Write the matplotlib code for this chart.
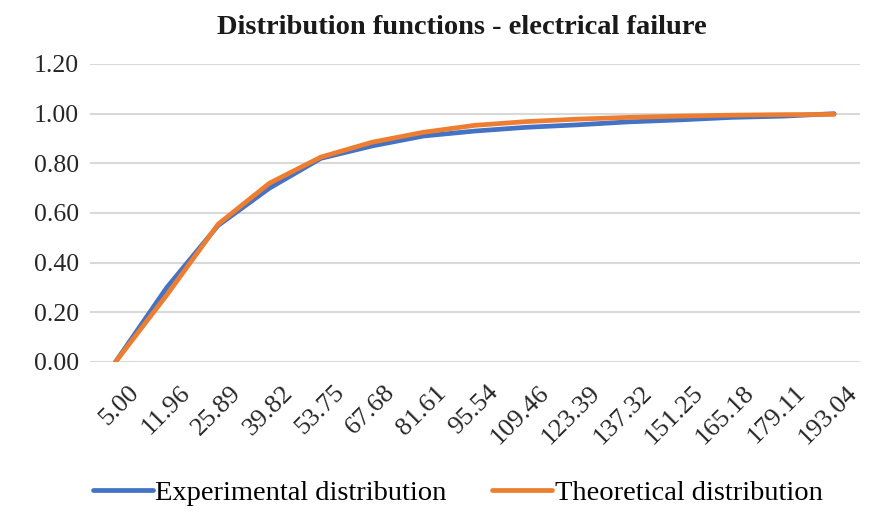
import matplotlib
matplotlib.use("Agg")
from matplotlib import pyplot as plt
from matplotlib import transforms

categories = ["5.00", "11.96", "25.89", "39.82", "53.75", "67.68", "81.61", "95.54",
              "109.46", "123.39", "137.32", "151.25", "165.18", "179.11", "193.04"]
experimental = [0.00, 0.30, 0.55, 0.70, 0.82, 0.87, 0.91, 0.93, 0.945, 0.955,
                0.967, 0.975, 0.985, 0.99, 1.00]
theoretical = [0.00, 0.27, 0.555, 0.72, 0.825, 0.885, 0.925, 0.953, 0.968, 0.978,
               0.985, 0.990, 0.994, 0.996, 0.997]
yticks = [0.0, 0.2, 0.4, 0.6, 0.8, 1.0, 1.2]

plt.rcParams["font.family"] = ["Liberation Serif", "DejaVu Serif"]

fig = plt.figure(figsize=(8.72, 5.12), dpi=100)
ax = fig.add_axes([0.103, 0.293, 0.883, 0.582])

x = list(range(len(categories)))
ax.plot(x, experimental, color="#4472C4", linewidth=3.4, solid_capstyle="round",
        label="Experimental distribution")
ax.plot(x, theoretical, color="#ED7D31", linewidth=3.4, solid_capstyle="round",
        label="Theoretical distribution")

ax.set_xlim(-0.5, len(categories) - 0.5)
ax.set_ylim(0, 1.2)
ax.set_yticks(yticks)
ax.set_yticklabels(["%.2f" % v for v in yticks], fontsize=18.5, color="#262626")
ax.set_xticks(x)
ax.set_xticklabels(categories, rotation=45, ha="right", rotation_mode="anchor",
                   fontsize=19, color="#262626")
ax.tick_params(axis="both", length=0, pad=8)
ax.tick_params(axis="x", pad=14)
shift = transforms.ScaledTranslation(12 / 100, 0, fig.dpi_scale_trans)
for lab in ax.get_xticklabels():
    lab.set_transform(lab.get_transform() + shift)
ax.grid(axis="y", color="#d9d9d9", linewidth=1.5)
ax.set_axisbelow(True)
for s in ax.spines.values():
    s.set_visible(False)

fig.suptitle("Distribution functions - electrical failure", x=0.53, y=0.97,
             fontsize=20.5, fontweight="bold", color="#1a1a1a")

fig.legend(loc="center", bbox_to_anchor=(0.525, 0.037), ncol=2, frameon=False,
           fontsize=20.5, handlelength=2.1, handletextpad=0.1, columnspacing=1.6)

fig.savefig("out.png", dpi=100)
